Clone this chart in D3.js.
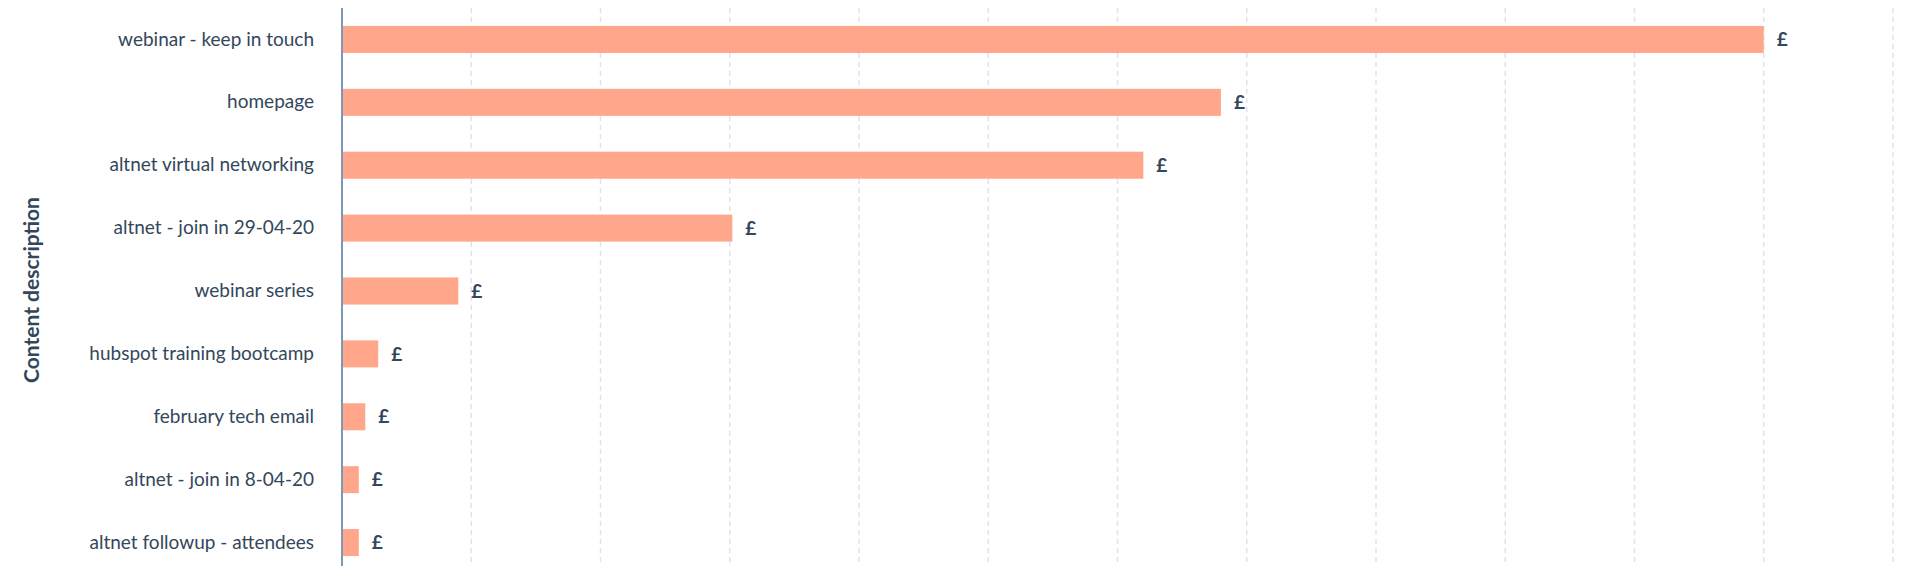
<!DOCTYPE html>
<html>
<head>
<meta charset="utf-8">
<script src="https://cdn.jsdelivr.net/npm/d3@7"></script>
<style>
  body { margin: 0; background: #fff; }
  text { font-family: Lato, "Open Sans", sans-serif; fill: #33475b; }
</style>
</head>
<body>
<div id="chart"></div>
<script>
// categories and values (value axis has no labels; units in tens)
const categories = [
  "webinar - keep in touch",
  "homepage",
  "altnet virtual networking",
  "altnet - join in 29-04-20",
  "webinar series",
  "hubspot training bootcamp",
  "february tech email",
  "altnet - join in 8-04-20",
  "altnet followup - attendees"
];
const values = [110, 68, 62, 30.2, 9, 2.8, 1.8, 1.3, 1.3];
const valueLabels = ["£", "£", "£", "£", "£", "£", "£", "£", "£"];
const xTicks = d3.range(0, 130, 10);

const width = 1920, height = 566;
const margin = {top: 8, right: 27, bottom: 0, left: 342};

const svg = d3.select("#chart").append("svg")
    .attr("width", width)
    .attr("height", height);

const x = d3.scaleLinear().domain([0, 120]).range([margin.left, width - margin.right]);
const y = d3.scaleBand().domain(categories).range([margin.top, 574]).paddingInner(0.57).paddingOuter(0.285);

// dashed grid
svg.append("g")
    .selectAll("line")
    .data(xTicks.slice(1))
    .enter().append("line")
    .attr("x1", d => x(d)).attr("x2", d => x(d))
    .attr("y1", margin.top).attr("y2", height)
    .attr("stroke", "#dfe3eb")
    .attr("stroke-width", 1.5)
    .attr("stroke-dasharray", "5,4");

// bars
svg.append("g")
    .selectAll("rect")
    .data(values)
    .enter().append("rect")
    .attr("x", x(0))
    .attr("y", (d, i) => y(categories[i]))
    .attr("width", d => x(d) - x(0))
    .attr("height", y.bandwidth())
    .attr("fill", "#ffa68b");

// value labels
svg.append("g")
    .selectAll("text")
    .data(values)
    .enter().append("text")
    .attr("x", d => x(d) + 13)
    .attr("y", (d, i) => y(categories[i]) + y.bandwidth() / 2)
    .attr("dy", "0.35em")
    .style("font-size", "19px")
    .style("font-weight", "bold")
    .text((d, i) => valueLabels[i]);

// y axis
const yAxis = svg.append("g")
    .attr("transform", "translate(" + x(0) + ",0)")
    .call(d3.axisLeft(y).tickSize(0).tickPadding(28));
yAxis.select(".domain").attr("stroke", "#7c98b6").attr("stroke-width", 2)
    .attr("d", "M0," + margin.top + "V" + height);
yAxis.selectAll("text")
    .style("font-size", "19px")
    .style("fill", "#33475b")
    .style("font-family", "Lato, 'Open Sans', sans-serif");

// y title
svg.append("text")
    .attr("transform", "translate(39,290) rotate(-90)")
    .attr("text-anchor", "middle")
    .style("font-size", "21px")
    .style("font-weight", "bold")
    .text("Content description");
</script>
</body>
</html>
